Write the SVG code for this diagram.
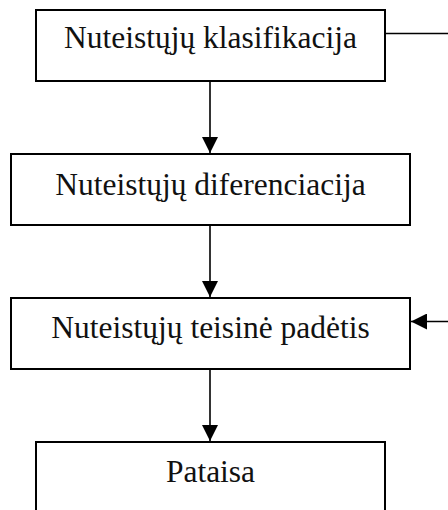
<svg xmlns="http://www.w3.org/2000/svg" width="448" height="510" viewBox="0 0 448 510">
<style>
.box{fill:#fff;stroke:#000;stroke-width:2}
.lbl{font-family:"Liberation Serif","Times New Roman",serif;font-size:31.5px;fill:#111;text-anchor:middle}
.con{stroke:#000;stroke-width:1.6;fill:none}
</style>
<defs>
<marker id="ah" markerUnits="userSpaceOnUse" markerWidth="16" markerHeight="16" viewBox="0 0 16 16" refX="16" refY="8" orient="auto">
<path d="M0,0 L16,8 L0,16 Z" fill="#000"/>
</marker>
</defs>
<rect width="448" height="510" fill="#fff"/>
<g id="connectors">
<line class="con" x1="210" y1="81" x2="210" y2="153" marker-end="url(#ah)"/>
<line class="con" x1="210" y1="226" x2="210" y2="297" marker-end="url(#ah)"/>
<line class="con" x1="210" y1="370" x2="210" y2="441" marker-end="url(#ah)"/>
<line class="con" x1="386" y1="33.5" x2="448" y2="33.5"/>
<line class="con" x1="448" y1="321.5" x2="411" y2="321.5" marker-end="url(#ah)"/>
</g>
<g id="n1"><rect class="box" x="36" y="10" width="349" height="71"/><text class="lbl" x="210.5" y="48">Nuteistųjų klasifikacija</text></g>
<g id="n2"><rect class="box" x="11" y="154" width="399" height="71"/><text class="lbl" x="210.5" y="195">Nuteistųjų diferenciacija</text></g>
<g id="n3"><rect class="box" x="11" y="298" width="399" height="71"/><text class="lbl" x="210.5" y="338">Nuteistųjų teisinė padėtis</text></g>
<g id="n4"><rect class="box" x="36" y="442" width="349" height="80"/><text class="lbl" x="210.5" y="482">Pataisa</text></g>
</svg>
